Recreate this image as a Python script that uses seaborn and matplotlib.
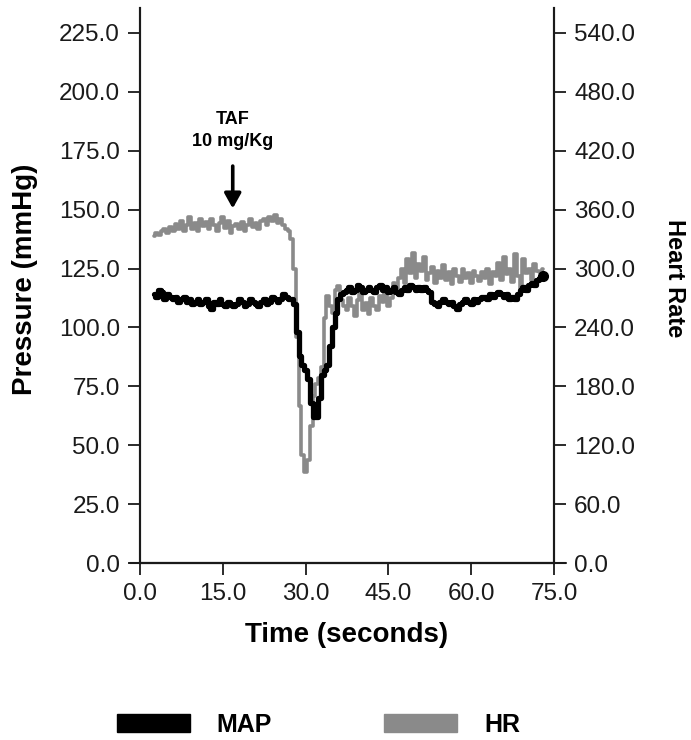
import numpy as np
import pandas as pd
import matplotlib
matplotlib.use("Agg")
import matplotlib.pyplot as plt
from matplotlib.patches import Patch
import seaborn as sns

# ---------------- data ----------------
time_s = np.arange(2.5, 73.01, 0.5)

map_mmhg = [
    114, 113, 116, 115, 112, 114, 113, 112, 113, 111,
    112, 113, 111, 112, 110, 111, 112, 110, 111, 112,
    109, 108, 111, 110, 112, 110, 109, 111, 110, 109,
    110, 112, 111, 109, 110, 112, 111, 110, 109, 111,
    112, 110, 111, 113, 112, 111, 112, 114, 113, 112,
    112, 110, 98, 88, 84, 82, 78, 68, 62, 62,
    70, 80, 82, 84, 92, 100, 106, 112, 114, 115,
    116, 117, 115, 116, 118, 117, 115, 116, 117, 116,
    115, 117, 118, 116, 117, 115, 116, 117, 115, 114,
    116, 117, 116, 118, 117, 116, 117, 116, 117, 116,
    115, 111, 110, 109, 111, 112, 111, 110, 111, 109,
    108, 110, 111, 112, 111, 110, 112, 111, 112, 113,
    113, 112, 114, 113, 114, 115, 114, 113, 114, 112,
    113, 112, 114, 116, 117, 116, 118, 119, 118, 120,
    121, 122,
]

hr_bpm = [
    333, 336, 334, 338, 340, 336, 342, 338, 345, 340,
    348, 338, 344, 352, 340, 346, 338, 350, 343, 347,
    340, 350, 344, 338, 346, 352, 341, 348, 336, 343,
    345, 340, 347, 338, 344, 350, 342, 346, 340, 348,
    350, 344, 352, 348, 355, 346, 350, 344, 340, 338,
    330, 300, 230, 160, 110, 93, 105, 140, 170, 182,
    188, 200, 250, 272, 262, 255, 278, 282, 268, 262,
    258, 270, 262, 252, 268, 275, 258, 265, 254, 270,
    262, 258, 272, 266, 280, 262, 270, 285, 278, 290,
    300, 285, 310, 295, 316, 290, 305, 298, 312, 288,
    295, 302, 285, 298, 290, 304, 288, 296, 284, 300,
    292, 286, 300, 290, 295, 285, 298, 292, 287, 296,
    290, 300, 284, 296, 292, 306, 288, 312, 294, 300,
    286, 315, 292, 280, 310, 295, 300, 288, 305, 298,
    296, 300,
]

x_ticks = [0, 15, 30, 45, 60, 75]
left_ticks = [0, 25, 50, 75, 100, 125, 150, 175, 200, 225]
right_ticks = [0, 60, 120, 180, 240, 300, 360, 420, 480, 540]

df = pd.DataFrame({"time": time_s, "MAP": map_mmhg, "HR": hr_bpm})

# ---------------- style ----------------
sns.set_style("ticks")
plt.rcParams["font.family"] = ["Liberation Sans", "DejaVu Sans"]
plt.rcParams["text.color"] = "black"
plt.rcParams["axes.labelcolor"] = "black"

fig = plt.figure(figsize=(6.91, 7.40), dpi=100)
ax = fig.add_axes([140 / 691, 1 - 563 / 740, 414 / 691, 555 / 740])
ax2 = ax.twinx()

grey = "#8a8a8a"

sns.lineplot(data=df, x="time", y="HR", ax=ax2, color=grey, linewidth=2.6,
             drawstyle="steps-mid", estimator=None)
sns.lineplot(data=df, x="time", y="MAP", ax=ax, color="black", linewidth=3.8,
             drawstyle="steps-mid", estimator=None)
ax.plot(df["time"].iloc[-1], df["MAP"].iloc[-1], "o", color="black", ms=7)

ax.set_zorder(ax2.get_zorder() + 1)
ax.patch.set_visible(False)

ymax = 235.6
ax.set_xlim(0, 75)
ax.set_ylim(0, ymax)
ax2.set_ylim(0, ymax * 2.4)

ax.set_xticks(x_ticks)
ax.set_xticklabels([f"{v:.1f}" for v in x_ticks])
ax.set_yticks(left_ticks)
ax.set_yticklabels([f"{v:.1f}" for v in left_ticks])
ax2.set_yticks(right_ticks)
ax2.set_yticklabels([f"{v:.1f}" for v in right_ticks])

for a in (ax, ax2):
    for lab in a.get_xticklabels() + a.get_yticklabels():
        lab.set_fontsize(17.5)
        lab.set_color("#1a1a1a")
    a.tick_params(length=8.5, width=1.3, color="#1a1a1a", pad=6)
    for s in a.spines.values():
        s.set_linewidth(1.5)
        s.set_color("#1a1a1a")
    a.spines["top"].set_visible(False)

ax.set_xlabel("Time (seconds)", fontsize=20, fontweight="bold", color="black")
ax.xaxis.label.set_va("center")
ax.xaxis.set_label_coords(0.5, (563 - 635) / 555)

ax.set_ylabel("Pressure (mmHg)", fontsize=20, fontweight="bold", color="black")
ax.yaxis.label.set_va("center")
ax.yaxis.set_label_coords((25 - 140) / 414, (563 - 279) / 555)

ax2.set_ylabel("Heart Rate", fontsize=17, fontweight="bold", rotation=-90,
               color="black")
ax2.yaxis.label.set_va("center")
ax2.yaxis.set_label_coords((674 - 140) / 414, (563 - 278) / 555)

# extended x-axis line
ax.plot([-0.025, 1.03], [0, 0], transform=ax.transAxes, color="#1a1a1a",
        lw=1.5, clip_on=False)

# annotation
ax.annotate("", xy=(16.8, 150.5), xytext=(16.8, 168.5),
            arrowprops=dict(arrowstyle="-|>,head_width=0.5,head_length=0.9",
                            color="black", lw=2.6, shrinkA=0, shrinkB=0))
ax.text(16.8, 183.6, "TAF\n10 mg/Kg", ha="center", va="center",
        fontsize=13, fontweight="bold", linespacing=1.35, color="black")

# legend
handles = [Patch(facecolor="black", edgecolor="black", label="MAP"),
           Patch(facecolor=grey, edgecolor=grey, label="HR")]
leg = fig.legend(handles=handles, loc="center",
                 bbox_to_anchor=(0.461, 1 - 725 / 740),
                 ncol=2, frameon=False, handlelength=2.9, handleheight=0.72,
                 handletextpad=1.08, columnspacing=4.5,
                 prop={"weight": "bold", "size": 18})
for txt in leg.get_texts():
    txt.set_color("black")

fig.savefig("out.png", dpi=100)
